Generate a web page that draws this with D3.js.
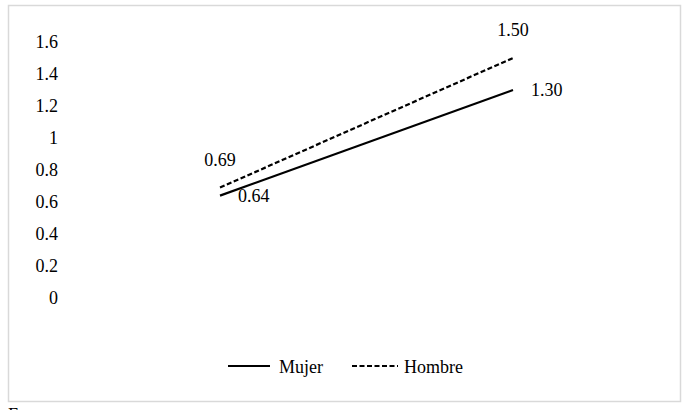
<!DOCTYPE html>
<html>
<head>
<meta charset="utf-8">
<script src="https://cdn.jsdelivr.net/npm/d3@7"></script>
<style>
  body { margin: 0; background: #fff; }
</style>
</head>
<body>
<div id="chart"></div>
<script>
// datos del gráfico
const categories = ["A", "B"];
const mujer = [0.64, 1.30];
const hombre = [0.69, 1.50];
const yTicks = [0, 0.2, 0.4, 0.6, 0.8, 1, 1.2, 1.4, 1.6];
const seriesNames = ["Mujer", "Hombre"];

const width = 693, height = 410;

const svg = d3.select("#chart")
  .append("svg")
    .attr("width", width)
    .attr("height", height)
    .attr("font-family", "'Liberation Serif', 'Times New Roman', Times, serif")
    .attr("font-size", 18);

// marco del gráfico
svg.append("rect")
  .attr("x", 8.5).attr("y", 5.5)
  .attr("width", 672).attr("height", 396)
  .attr("fill", "none")
  .attr("stroke", "#d9d9d9")
  .attr("stroke-width", 1.5);

// escalas
const x = d3.scaleBand()
  .domain(categories)
  .range([73.5, 659.5]);

const y = d3.scaleLinear()
  .domain([0, 1.6])
  .range([298, 42]);

// eje Y (solo etiquetas)
svg.append("g")
  .selectAll("text")
  .data(yTicks)
  .join("text")
    .attr("x", 58)
    .attr("y", d => y(d))
    .attr("dy", "0.35em")
    .attr("text-anchor", "end")
    .text(d => d3.format("~g")(d));

const line = d3.line()
  .x((d, i) => x(categories[i]) + x.bandwidth() / 2)
  .y(d => y(d));

// líneas
svg.append("path")
  .datum(mujer)
  .attr("d", line)
  .attr("fill", "none")
  .attr("stroke", "#000")
  .attr("stroke-width", 2.2);

svg.append("path")
  .datum(hombre)
  .attr("d", line)
  .attr("fill", "none")
  .attr("stroke", "#000")
  .attr("stroke-width", 2.2)
  .attr("stroke-dasharray", "5,2.5");

// etiquetas de datos
const cx = i => x(categories[i]) + x.bandwidth() / 2;
const fmt = d3.format(".2f");

svg.append("g")
  .selectAll("text")
  .data(mujer)
  .join("text")
    .attr("x", (d, i) => cx(i) + 18)
    .attr("y", d => y(d))
    .attr("dy", "0.35em")
    .text(d => fmt(d));

svg.append("g")
  .selectAll("text")
  .data(hombre)
  .join("text")
    .attr("x", (d, i) => cx(i))
    .attr("y", d => y(d) - 28)
    .attr("dy", "0.35em")
    .attr("text-anchor", "middle")
    .text(d => fmt(d));

// leyenda
const legend = svg.append("g");
const legendX = [228, 352];
seriesNames.forEach((name, i) => {
  legend.append("line")
    .attr("x1", legendX[i]).attr("x2", legendX[i] + (i === 1 ? 46 : 42))
    .attr("y1", 366).attr("y2", 366)
    .attr("stroke", "#000")
    .attr("stroke-width", 2.2)
    .attr("stroke-dasharray", i === 1 ? "5,2.5" : null);
  legend.append("text")
    .attr("x", legendX[i] + (i === 1 ? 52 : 51))
    .attr("y", 367)
    .attr("dy", "0.35em")
    .text(name);
});

// texto de fuente (cortado abajo, como en el original)
svg.append("text")
  .attr("x", 8)
  .attr("y", 421)
  .text("Fuente");
</script>
</body>
</html>
